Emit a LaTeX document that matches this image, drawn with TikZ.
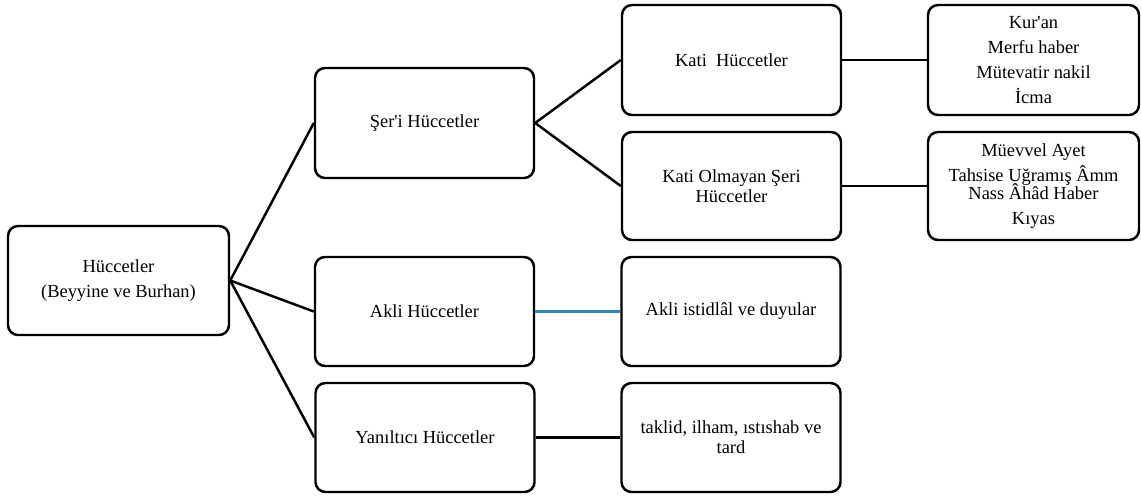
\documentclass[tikz,border=0pt]{standalone}
\usepackage{fontspec}
\setmainfont{Liberation Serif}[Ligatures=TeXOff]
\definecolor{linkblue}{RGB}{49,134,170}

\begin{document}
\begin{tikzpicture}[
        every node/.style={font=\fontsize{10.5}{14.3}\selectfont},
        hbox/.style={draw, line width=1.4pt, rounded corners=0.2cm, align=center,
                     minimum width=4.38cm, minimum height=2.18cm, inner sep=2pt},
        leafbox/.style={hbox, minimum width=4.22cm},
        link/.style={line width=1.4pt}]

        \useasboundingbox (0,0) rectangle (22.82,-9.92);

        % Root of the tree
        \node[hbox, minimum width=4.42cm] (hucc) at (2.37,-5.61) {Hüccetler\\(Beyyine ve Burhan)};

        % Second column
        \node[hbox, minimum height=2.2cm] (seri) at (8.49,-2.46) {Şer'i Hüccetler};
        \node[hbox] (akli) at (8.49,-6.23) {Akli Hüccetler};
        \node[hbox] (yanil) at (8.50,-8.75) {Yanıltıcı Hüccetler};

        % Third column
        \node[hbox, minimum height=2.2cm] (kati) at (14.63,-1.20) {Kati\ \ Hüccetler};
        \node[hbox, minimum height=2.16cm] (katiol) at (14.63,-3.72) {Kati Olmayan Şeri\\[-3pt]Hüccetler};
        \node[hbox] (istid) at (14.62,-6.23) {Akli istidlâl ve duyular};
        \node[hbox] (taklid) at (14.62,-8.75) {taklid, ilham, ıstıshab ve\\[-3pt]tard};

        % Fourth column
        \node[leafbox, minimum height=2.2cm] (kuran) at (20.67,-1.20) {Kur'an\\Merfu haber\\Mütevatir nakil\\İcma};
        \node[leafbox, minimum height=2.16cm] (muev) at (20.67,-3.72) {Müevvel Ayet\\Tahsise Uğramış Âmm\\[-4pt]Nass Âhâd Haber\\Kıyas};

        % Connectors
        \draw[link] (hucc.east) -- (seri.west);
        \draw[link] (hucc.east) -- (akli.west);
        \draw[link] (hucc.east) -- (yanil.west);
        \draw[link] (seri.east) -- (kati.west);
        \draw[link] (seri.east) -- (katiol.west);
        \draw[link, linkblue] (akli.east) -- (istid.west);
        \draw[link] (yanil.east) -- (taklid.west);
        \draw[link] (kati.east) -- (kuran.west);
        \draw[link] (katiol.east) -- (muev.west);

    \end{tikzpicture}
\end{document}
